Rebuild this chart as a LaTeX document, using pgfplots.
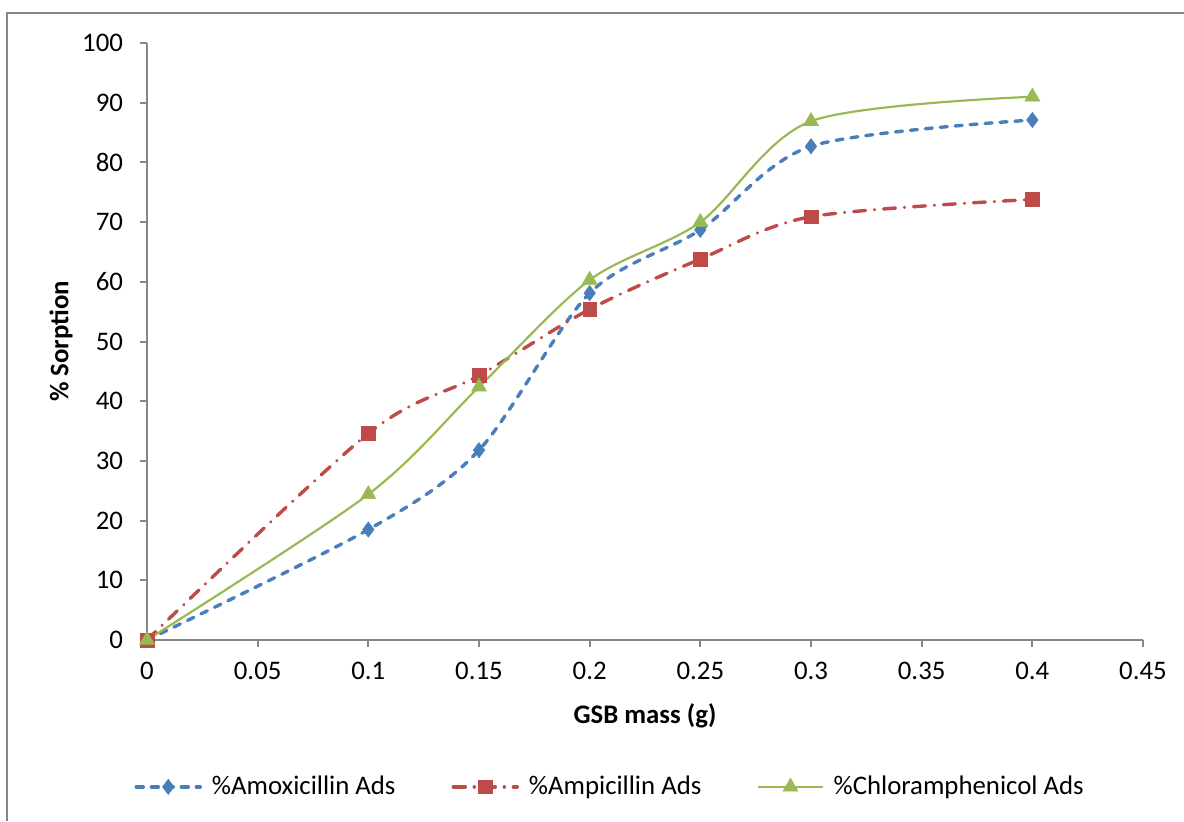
\documentclass[border=0pt]{standalone}
\usepackage{fontspec}
\setmainfont{Carlito}
\usepackage{pgfplots}
\pgfplotsset{compat=1.18}
\definecolor{cblue}{RGB}{74,126,187}
\definecolor{cred}{RGB}{190,75,72}
\definecolor{cgreen}{RGB}{152,185,84}
\definecolor{caxis}{RGB}{134,134,134}
\begin{document}
\begin{tikzpicture}[x=1pt,y=1pt,font=\fontsize{13.4}{16}\selectfont]
\path[use as bounding box] (0,0) rectangle (592,410.5);
\draw[color=caxis, line width=1pt] (3.5,0) -- (3.5,404) -- (592,404);
\begin{axis}[
  at={(73.5pt,90.5pt)}, anchor=south west,
  scale only axis, width=498pt, height=298.5pt,
  xmin=0, xmax=0.45, ymin=0, ymax=100,
  axis lines*=left,
  axis line style={color=caxis, line width=1pt},
  every tick/.style={color=caxis, line width=1pt},
  tick align=outside, major tick length=3.5pt,
  xtick={0,0.05,0.1,0.15,0.2,0.25,0.3,0.35,0.4,0.45},
  xticklabels={0,0.05,0.1,0.15,0.2,0.25,0.3,0.35,0.4,0.45},
  scaled x ticks=false,
  ytick={0,10,...,100},
  /pgf/number format/assume math mode=true,
  tick label style={font=\fontsize{13.4}{16}\selectfont},
  xticklabel style={yshift=-4pt},
  yticklabel style={xshift=-5pt},
  xlabel={\textbf{GSB mass (g)}},
  ylabel={\textbf{\% Sorption}},
  label style={font=\fontsize{13.4}{16}\selectfont},
  xlabel style={at={(rel axis cs:0.5,0)}, anchor=center, yshift=-38pt},
  ylabel style={at={(rel axis cs:0,0.5)}, anchor=center, yshift=43pt},
  legend style={at={(0.466,-0.246)}, anchor=center, draw=none, fill=none,
    legend columns=3, font=\fontsize{13.4}{16}\selectfont,
    /tikz/every odd column/.append style={column sep=3pt},
    /tikz/every even column/.append style={column sep=26pt}},
  legend cell align=left,
  legend image code/.code={\draw[mark repeat=2,mark phase=2,#1] plot coordinates {(0pt,0pt)(16pt,0pt)(32pt,0pt)};},
  clip=false,
]
\addplot[cblue, line width=1.7pt, line cap=round, dash pattern=on 3.5pt off 4pt, smooth, tension=0.5,
  mark=diamond*, mark size=3.8pt, mark options={solid, fill=cblue, draw=cblue, line width=0.3pt}]
  coordinates {(0,0) (0.1,18.5) (0.15,31.8) (0.2,58.1) (0.25,68.7) (0.3,82.7) (0.4,87.1)};
\addlegendentry{\%Amoxicillin Ads}
\addplot[cred, line width=1.7pt, line cap=round, dash pattern=on 6pt off 4.5pt on 0.01pt off 4.5pt, smooth, tension=0.5,
  mark=square*, mark size=3.4pt, mark options={solid, fill=cred, draw=cred, line width=0.3pt}]
  coordinates {(0,0) (0.1,34.6) (0.15,44.3) (0.2,55.4) (0.25,63.8) (0.3,70.9) (0.4,73.8)};
\addlegendentry{\%Ampicillin Ads}
\addplot[cgreen, line width=1.1pt, smooth, tension=0.5,
  mark=triangle*, mark size=4.3pt, mark options={solid, fill=cgreen, draw=cgreen, line width=0.3pt}]
  coordinates {(0,0) (0.1,24.4) (0.15,42.4) (0.2,60.3) (0.25,70.0) (0.3,86.9) (0.4,91.0)};
\addlegendentry{\%Chloramphenicol Ads}
\end{axis}
\end{tikzpicture}
\end{document}
